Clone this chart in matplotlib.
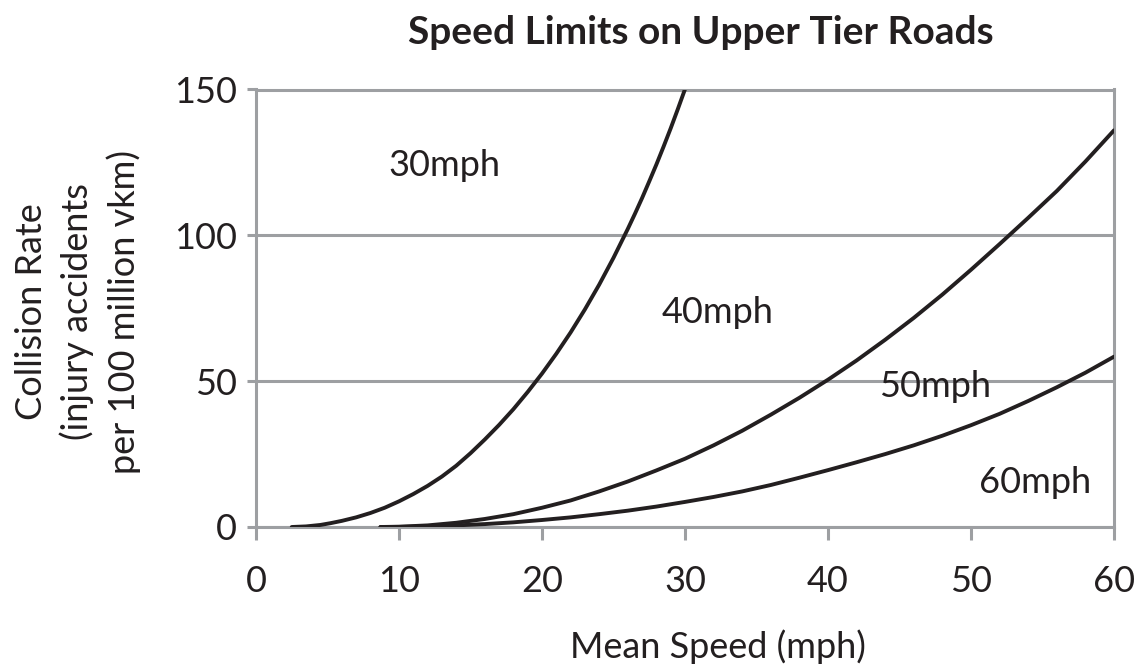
import matplotlib
matplotlib.use("Agg")
import matplotlib.pyplot as plt

# ---- data ----
x_30 = [2.5, 3.5, 4.5, 5.2, 6, 7, 8, 9, 10, 11, 12, 13, 14, 15, 16, 17, 18, 19, 20, 21, 22, 23,
        24, 25, 26, 26.5, 27, 27.5, 28, 28.5, 29, 29.5, 30, 30.2]
y_30 = [0, 0.2, 0.7, 1.3, 2.1, 3.3, 4.8, 6.6, 8.8, 11.3, 14.1, 17.3, 21.0, 25.3, 30.0, 35.0, 40.4,
        46.3, 52.6, 59.4, 66.7, 74.6, 83.1, 92.3, 102.2, 107.4, 112.8, 118.5, 124.3, 130.4, 136.7,
        143.3, 150.1, 152.9]

x_40 = [8.7, 10, 12, 14, 16, 18, 20, 22, 24, 26, 28, 30, 32, 34, 36, 38, 40, 42, 44, 46, 48, 50,
        52, 54, 56, 58, 60]
y_40 = [0, 0.1, 0.55, 1.45, 2.75, 4.4, 6.6, 9.1, 12.2, 15.6, 19.4, 23.4, 28.0, 33.0, 38.5, 44.3,
        50.5, 57.1, 64.2, 71.7, 79.7, 88.2, 97.0, 106.0, 115.2, 125.3, 136]

x_50 = [8.7, 10, 12, 14, 16, 18, 20, 22, 24, 26, 28, 30, 32, 34, 36, 38, 40, 42, 44, 46, 48, 50,
        52, 54, 56, 58, 60]
y_50 = [0, 0.03, 0.2, 0.55, 1.0, 1.6, 2.4, 3.3, 4.4, 5.6, 7.0, 8.6, 10.3, 12.2, 14.4, 16.9, 19.5,
        22.2, 25.0, 28.0, 31.3, 34.9, 38.8, 43.2, 47.9, 52.9, 58.4]

region_labels = ["30mph", "40mph", "50mph", "60mph"]
region_x = [13.2, 32.3, 47.5, 54.5]
region_y = [124, 73.7, 48.3, 15.4]

x_ticks = [0, 10, 20, 30, 40, 50, 60]
y_ticks = [0, 50, 100, 150]

title = "Speed Limits on Upper Tier Roads"
xlabel = "Mean Speed (mph)"
ylabel = "Collision Rate\n(injury accidents\nper 100 million vkm)"

# ---- style ----
GRID = "#9d9fa2"
INK = "#231f20"
FONT = ["Lato", "DejaVu Sans"]
plt.rcParams["font.family"] = FONT

W, H = 1147, 668
fig = plt.figure(figsize=(W / 100, H / 100), dpi=100)
ax = fig.add_axes([256 / W, 1 - 527 / H, (1114 - 256) / W, (527 - 89.5) / H])

ax.set_xlim(0, 60)
ax.set_ylim(0, 150)
ax.set_xticks(x_ticks)
ax.set_yticks(y_ticks)
ax.set_xticklabels([str(v) for v in x_ticks])
ax.set_yticklabels([str(v) for v in y_ticks])

ax.yaxis.grid(True, color=GRID, linewidth=2.2)
ax.set_axisbelow(True)
for s in ax.spines.values():
    s.set_color(GRID)
    s.set_linewidth(2.2)

ax.tick_params(axis="x", direction="out", length=9.5, width=2.2, color=GRID,
               pad=18, labelsize=26, labelcolor=INK)
ax.tick_params(axis="y", direction="out", length=6.5, width=2.2, color=GRID,
               pad=7, labelsize=26, labelcolor=INK)

for xs, ys in [(x_30, y_30), (x_40, y_40), (x_50, y_50)]:
    ax.plot(xs, ys, color=INK, linewidth=2.8, solid_capstyle="round",
            solid_joinstyle="round", clip_on=True, zorder=3)

for t, xv, yv in zip(region_labels, region_x, region_y):
    ax.text(xv, yv, t, ha="center", va="center", fontsize=26,
            color=INK, zorder=4)

fig.text(701 / W, 1 - 33 / H, title, ha="center", va="center",
         fontsize=28, fontweight="bold", color=INK)
fig.text(718 / W, 1 - 647 / H, xlabel, ha="center", va="center",
         fontsize=26, color=INK)
fig.text(78 / W, 1 - 312 / H, ylabel, ha="center", va="center",
         rotation=90, fontsize=26, color=INK,
         linespacing=1.4, multialignment="center")

fig.savefig("out.png", dpi=100)
